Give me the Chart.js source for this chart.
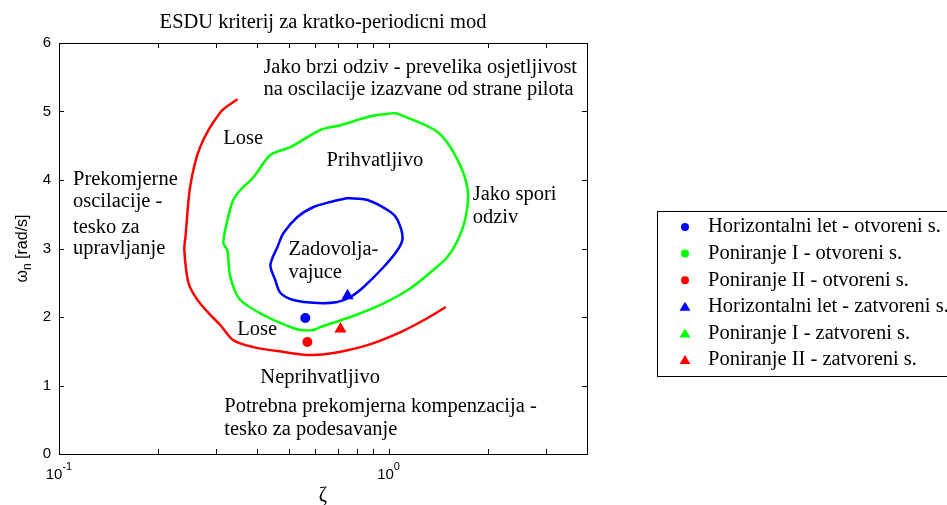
<!DOCTYPE html>
<html>
<head>
<meta charset="utf-8">
<script src="https://cdn.jsdelivr.net/npm/chart.js@4.4.1/dist/chart.umd.min.js"></script>
<style>
  html, body { margin: 0; padding: 0; background: #fff; }
  #wrap { width: 947px; height: 505px; }
</style>
</head>
<body>
<div id="wrap"><canvas id="esdu" width="947" height="505"></canvas></div>
<script>
// ===== ESDU short-period criterion =====

const xMin = 0.1, xMax = 4;
const yMin = 0, yMax = 6;
const xTickValues = [0.1, 0.2, 0.3, 0.4, 0.5, 0.6, 0.7, 0.8, 0.9, 1, 2, 3];
const xTickLabels = [[0.1, '10', '-1'], [1, '10', '0']];
const yTickValues = [0, 1, 2, 3, 4, 5, 6];

// boundary curves (zeta, omega_n)
const redZeta  = [0.348, 0.309, 0.268, 0.250, 0.242, 0.240, 0.247, 0.263, 0.288, 0.309, 0.338, 0.389, 0.480, 0.579, 0.681, 0.863, 1.088, 1.314, 1.491];
const redOmega = [5.18, 4.99, 4.48, 3.90, 3.17, 2.98, 2.50, 2.25, 2.03, 1.88, 1.66, 1.56, 1.49, 1.445, 1.475, 1.59, 1.78, 1.985, 2.146];

const greenZeta  = [1.050, 1.409, 1.621, 1.739, 1.714, 1.621, 1.511, 1.370, 1.166, 0.966, 0.766, 0.621, 0.592, 0.540, 0.504, 0.429, 0.355, 0.331, 0.324, 0.315, 0.326, 0.338, 0.355, 0.389, 0.438, 0.504, 0.621, 0.715, 0.882, 1.050];
const greenOmega = [4.98, 4.70, 4.29, 3.85, 3.46, 3.12, 2.88, 2.69, 2.42, 2.20, 2.00, 1.854, 1.81, 1.81, 1.854, 2.00, 2.248, 2.584, 2.978, 3.08, 3.46, 3.71, 3.854, 4.04, 4.365, 4.48, 4.73, 4.80, 4.93, 4.98];

const blueZeta  = [0.751, 0.863, 1.014, 1.065, 1.103, 1.065, 0.966, 0.840, 0.766, 0.700, 0.609, 0.514, 0.470, 0.453, 0.438, 0.460, 0.480, 0.529, 0.592, 0.666, 0.751];
const blueOmega = [3.737, 3.708, 3.533, 3.416, 3.153, 2.978, 2.730, 2.438, 2.292, 2.219, 2.204, 2.248, 2.350, 2.540, 2.759, 3.022, 3.226, 3.460, 3.606, 3.679, 3.737];

// measured points
const markerLabels = [
  'Horizontalni let - otvoreni s.',
  'Poniranje I - otvoreni s.',
  'Poniranje II - otvoreni s.',
  'Horizontalni let - zatvoreni s.',
  'Poniranje I - zatvoreni s.',
  'Poniranje II - zatvoreni s.'
];
const markerZeta  = [[0.559], [], [0.567], [0.751], [], [0.7145]];
const markerOmega = [[1.985], [], [1.635], [2.31], [], [1.825]];
const markerColors = ['#0000ff', '#00ff00', '#ff0000', '#0000ff', '#00ff00', '#ff0000'];
const markerStyles = ['circle', 'circle', 'circle', 'triangle', 'triangle', 'triangle'];

// region labels: [text, zeta, omega]
const regionTexts = [
  ['Jako brzi odziv - prevelika osjetljivost', 0.417, 5.635],
  ['na oscilacije izazvane od strane pilota', 0.417, 5.314],
  ['Lose', 0.315, 4.60],
  ['Prihvatljivo', 0.648, 4.29],
  ['Prekomjerne', 0.1103, 4.0],
  ['oscilacije -', 0.1103, 3.68],
  ['tesko za', 0.1103, 3.31],
  ['upravljanje', 0.1103, 3.0],
  ['Jako spori', 1.80, 3.78],
  ['odziv', 1.80, 3.445],
  ['Zadovolja-', 0.4966, 2.978],
  ['vajuce', 0.4966, 2.642],
  ['Lose', 0.3476, 1.81],
  ['Neprihvatljivo', 0.4083, 1.109],
  ['Potrebna prekomjerna kompenzacija -', 0.3173, 0.686],
  ['tesko za podesavanje', 0.3173, 0.35]
];

const titleText = 'ESDU kriterij za kratko-periodicni mod';
const serif = '"Liberation Serif", "Times New Roman", serif';
const sans = '"Liberation Sans", Arial, sans-serif';
const textFont = '20.5px ' + serif;

const toPts = (xs, ys) => xs.map((x, i) => ({ x: x, y: ys[i] }));

const curveSet = (pts, color) => ({
  data: pts, showLine: true, borderColor: color, borderWidth: 2.5,
  pointRadius: 0, fill: false, tension: 0.3
});

const datasets = [
  curveSet(toPts(redZeta, redOmega), '#ff0000'),
  curveSet(toPts(greenZeta, greenOmega), '#00ff00'),
  curveSet(toPts(blueZeta, blueOmega), '#0000ff')
];
markerLabels.forEach((lab, i) => {
  datasets.push({
    label: lab,
    data: toPts(markerZeta[i], markerOmega[i]),
    showLine: false,
    pointStyle: markerStyles[i],
    pointRadius: markerStyles[i] === 'circle' ? 5 : 7,
    backgroundColor: markerColors[i],
    borderColor: markerColors[i],
    borderWidth: 0
  });
});

// frame, inward ticks, texts, custom legend
const decorPlugin = {
  id: 'decor',
  afterDraw(chart) {
    const ctx = chart.ctx;
    const a = chart.chartArea;
    const sx = chart.scales.x, sy = chart.scales.y;
    ctx.save();
    ctx.strokeStyle = '#000';
    ctx.lineWidth = 1;
    ctx.strokeRect(a.left + 0.5, a.top + 0.5, a.right - a.left, a.bottom - a.top);

    ctx.beginPath();
    xTickValues.forEach(v => {
      const px = Math.round(sx.getPixelForValue(v)) + 0.5;
      ctx.moveTo(px, a.bottom); ctx.lineTo(px, a.bottom - 5);
      ctx.moveTo(px, a.top); ctx.lineTo(px, a.top + 5);
    });
    yTickValues.forEach(v => {
      const py = Math.round(sy.getPixelForValue(v)) + 0.5;
      ctx.moveTo(a.left, py); ctx.lineTo(a.left + 5, py);
      ctx.moveTo(a.right, py); ctx.lineTo(a.right - 5, py);
    });
    ctx.stroke();

    // x tick labels with exponent
    ctx.fillStyle = '#000';
    ctx.textBaseline = 'middle';
    xTickLabels.forEach(([v, base, exp]) => {
      const px = sx.getPixelForValue(v);
      ctx.font = '15px ' + sans;
      const wb = ctx.measureText(base).width;
      ctx.font = '11px ' + sans;
      const we = ctx.measureText(exp).width;
      const left = px - (wb + we) / 2;
      ctx.textAlign = 'left';
      ctx.font = '15px ' + sans;
      ctx.fillText(base, left, a.bottom + 21);
      ctx.font = '11px ' + sans;
      ctx.fillText(exp, left + wb, a.bottom + 13);
    });

    // region texts
    ctx.font = textFont;
    ctx.textAlign = 'left';
    regionTexts.forEach(([t, zx, wy]) => {
      ctx.fillText(t, sx.getPixelForValue(zx), sy.getPixelForValue(wy));
    });

    // title
    ctx.textAlign = 'center';
    ctx.fillText(titleText, (a.left + a.right) / 2, a.top - 20);

    // x label
    ctx.font = '20px ' + serif;
    ctx.fillText('\u03B6', (a.left + a.right) / 2, a.bottom + 42);

    // y label: omega_n [rad/s]
    ctx.save();
    ctx.translate(23, (a.top + a.bottom) / 2);
    ctx.rotate(-Math.PI / 2);
    ctx.font = '16px ' + sans;
    const w1 = ctx.measureText('\u03C9').width;
    const w3 = ctx.measureText(' [rad/s]').width;
    ctx.font = '12px ' + sans;
    const w2 = ctx.measureText('n').width;
    let cx = -(w1 + w2 + w3) / 2;
    ctx.textAlign = 'left';
    ctx.font = '16px ' + sans;
    ctx.fillText('\u03C9', cx, 0);
    ctx.font = '12px ' + sans;
    ctx.fillText('n', cx + w1, 5);
    ctx.font = '16px ' + sans;
    ctx.fillText(' [rad/s]', cx + w1 + w2, 0);
    ctx.restore();

    // legend box
    const lx = 657, ly = 211, rowH = 26.6;
    ctx.strokeRect(lx + 0.5, ly + 0.5, 320, 165);
    ctx.font = textFont;
    ctx.textAlign = 'left';
    chart.data.datasets.filter(d => d.label).forEach((d, i) => {
      const cy = ly + 16 + i * rowH;
      ctx.fillStyle = d.backgroundColor;
      ctx.beginPath();
      if (d.pointStyle === 'circle') {
        ctx.arc(685, cy, 4, 0, Math.PI * 2);
      } else {
        ctx.moveTo(685, cy - 5);
        ctx.lineTo(685 + 5.5, cy + 4);
        ctx.lineTo(685 - 5.5, cy + 4);
        ctx.closePath();
      }
      ctx.fill();
      ctx.fillStyle = '#000';
      ctx.fillText(d.label, 708, cy);
    });
    ctx.restore();
  }
};

new Chart(document.getElementById('esdu'), {
  type: 'scatter',
  data: { datasets: datasets },
  options: {
    responsive: false,
    animation: false,
    layout: { padding: { top: 43, right: 360, left: 0, bottom: 0 } },
    plugins: {
      legend: { display: false },
      title: { display: false },
      tooltip: { enabled: false }
    },
    scales: {
      x: {
        type: 'logarithmic',
        min: xMin, max: xMax,
        grid: { display: false },
        border: { display: false },
        ticks: { display: false },
        afterBuildTicks: s => { s.ticks = xTickValues.map(v => ({ value: v })); },
        afterFit: s => { s.height = 51; }
      },
      y: {
        min: yMin, max: yMax,
        grid: { display: false, drawTicks: false },
        border: { display: false },
        ticks: {
          stepSize: 1, padding: 8, color: '#000',
          font: { family: sans, size: 15 }
        },
        afterBuildTicks: s => { s.ticks = yTickValues.map(v => ({ value: v })); },
        afterFit: s => { s.width = 59; }
      }
    }
  },
  plugins: [decorPlugin]
});
</script>
</body>
</html>
